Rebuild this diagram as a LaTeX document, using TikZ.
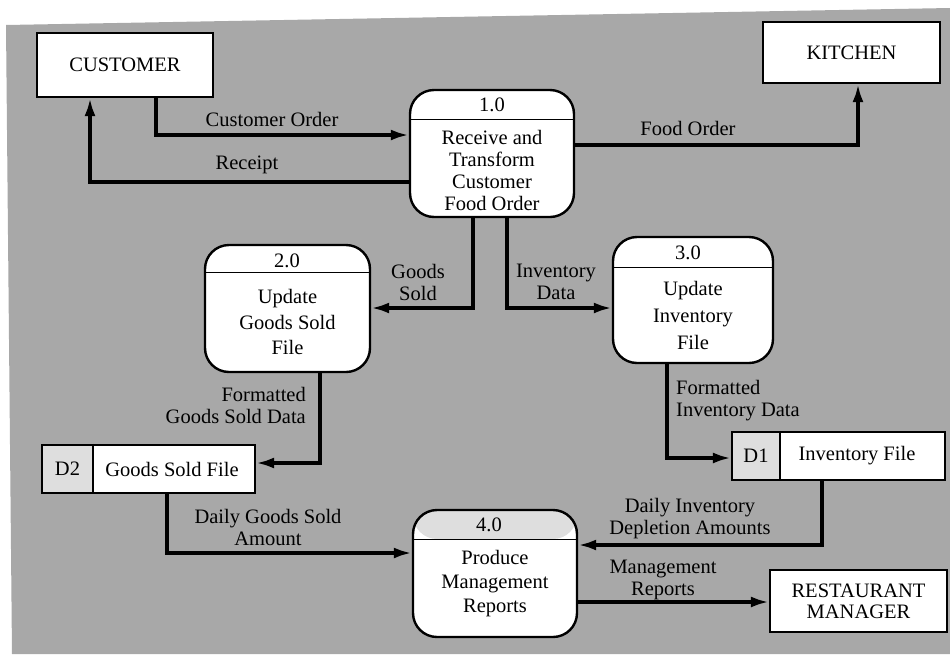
\documentclass[tikz,border=0pt]{standalone}
\usepackage{fontspec}
\setmainfont{Liberation Serif}
\usetikzlibrary{arrows.meta}
\definecolor{paper}{RGB}{168,168,168}
\definecolor{cellgray}{RGB}{222,222,222}
\tikzset{
  entity/.style={draw, line width=2.2pt, fill=white, rectangle, inner sep=0pt, align=center},
  process/.style={draw, line width=2.4pt, fill=white, rounded corners=24pt, inner sep=0pt},
  store/.style={draw, line width=2.2pt, fill=white, rectangle, inner sep=0pt},
  flow/.style={line width=3.4pt, -{Latex[length=18pt,width=11pt]}},
  lbl/.style={inner sep=0pt, align=center},
  headline/.style={line width=1pt},
}
\begin{document}
\begin{tikzpicture}[x=1pt, y=-1pt, font=\fontsize{20.5}{22}\selectfont]
\useasboundingbox (0,0) rectangle (950,654);
% scanned page background
\fill[paper] (6,25) -- (950,8) -- (950,654) -- (12,654) -- cycle;

% external entities
\node[entity, minimum width=176pt, minimum height=64pt] (cust) at (125,65) {CUSTOMER};
\node[entity, minimum width=177pt, minimum height=61pt] (kitch) at (851.5,52.5) {KITCHEN};
\node[entity, minimum width=177pt, minimum height=62pt] (rm) at (858.5,601) {RESTAURANT\\[-1pt]MANAGER};

% processes
\node[process, minimum width=164pt, minimum height=127pt] (p1) at (492,153.5) {};
\draw[headline] (p1.west |- 0,119) -- (p1.east |- 0,119);
\node[lbl] (p1n) at (492,105) {1.0};
\node[lbl] (p1t) at (492,170) {Receive and\\Transform\\Customer\\Food Order};

\node[process, minimum width=165pt, minimum height=127pt] (p2) at (287.5,308.5) {};
\draw[headline] (p2.west |- 0,272) -- (p2.east |- 0,272);
\node[lbl] (p2n) at (287,261) {2.0};
\node[lbl, font=\fontsize{20.5}{25.5}\selectfont] (p2t) at (287.5,322) {Update\\Goods Sold\\File};

\node[process, minimum width=160pt, minimum height=126pt] (p3) at (693,300) {};
\draw[headline] (p3.west |- 0,267) -- (p3.east |- 0,267);
\node[lbl] (p3n) at (688,253) {3.0};
\node[lbl, font=\fontsize{20.5}{27}\selectfont] (p3t) at (693,315) {Update\\Inventory\\File};

\node[process, minimum width=164pt, minimum height=127pt,
  path picture={\fill[cellgray] (path picture bounding box.north west) rectangle ([yshift=-29pt]path picture bounding box.north east);}] (p4) at (495,573.5) {};
\draw[headline] (p4.west |- 0,539) -- (p4.east |- 0,539);
\node[lbl] (p4n) at (489,525) {4.0};
\node[lbl, font=\fontsize{20.5}{24}\selectfont] (p4t) at (495,584) {Produce\\Management\\Reports};

% data stores
\node[store, minimum width=213pt, minimum height=48pt,
  path picture={\fill[cellgray] (path picture bounding box.north west) rectangle ([xshift=51pt]path picture bounding box.south west);}] (d2) at (148.5,469) {};
\draw[line width=1.6pt] (d2.north -| 93,0) -- (d2.south -| 93,0);
\node[lbl] (d2id) at (67.5,469) {D2};
\node[lbl] (d2t) at (172,469) {Goods Sold File};

\node[store, minimum width=213pt, minimum height=48pt,
  path picture={\fill[cellgray] (path picture bounding box.north west) rectangle ([xshift=48pt]path picture bounding box.south west);}] (d1) at (838.5,456) {};
\draw[line width=1.6pt] (d1.north -| 780,0) -- (d1.south -| 780,0);
\node[lbl] (d1id) at (756,456) {D1};
\node[lbl] (d1t) at (857,456) {Inventory File};

% data flows
\draw[flow] (cust.south -| 156,0) |- (p1.west |- 0,135);
\draw[flow] (p1.west |- 0,182) -| (cust.south -| 90,0);
\draw[flow] (p1.east |- 0,145) -| (kitch.south -| 858,0);
\draw[flow] (p1.south -| 473,0) |- (p2.east |- 0,308);
\draw[flow] (p1.south -| 507,0) |- (p3.west |- 0,308);
\draw[flow] (p2.south -| 320,0) |- (d2.east |- 0,463);
\draw[flow] (p3.south -| 667,0) |- (d1.west |- 0,458);
\draw[flow] (d2.south -| 167,0) |- (p4.west |- 0,553);
\draw[flow] (d1.south -| 822,0) |- (p4.east |- 0,545);
\draw[flow] (p4.east |- 0,602) -- (rm.west |- 0,602);

% flow labels
\node[lbl] (lco) at (272,119) {Customer Order};
\node[lbl] (lrc) at (247,165) {Receipt};
\node[lbl] (lfo) at (688,128) {Food Order};
\node[lbl] (lgs) at (418,282) {Goods\\Sold};
\node[lbl] (lid) at (556,282) {Inventory\\Data};
\node[lbl, align=right, anchor=east] (lfg) at (306,405) {Formatted\\Goods Sold Data};
\node[lbl, align=left, anchor=west] (lfi) at (676,401) {Formatted\\Inventory Data};
\node[lbl] (ldg) at (268,527) {Daily Goods Sold\\Amount};
\node[lbl] (ldi) at (690,519) {Daily Inventory\\Depletion Amounts};
\node[lbl] (lmr) at (663,580) {Management\\Reports};
\end{tikzpicture}
\end{document}
